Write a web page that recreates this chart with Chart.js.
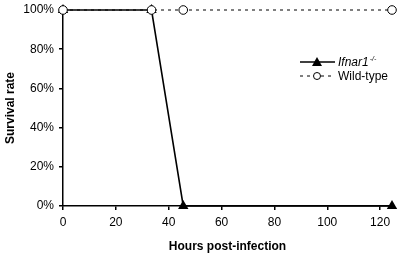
<!DOCTYPE html>
<html><head><meta charset="utf-8">
<script src="https://cdn.jsdelivr.net/npm/chart.js@4"></script>
<style>html,body{margin:0;padding:0;background:#fff}#wrap{width:401px;height:257px;position:relative}</style>
</head><body><div id="wrap"><canvas id="c" width="401" height="257"></canvas></div>
<script>
const hours = [0, 33.5, 45.5, 124.5];
const ifnarSurvival = [100, 100, 0, 0];
const wildTypeSurvival = [100, 100, 100, 100];
const xTicks = [0, 20, 40, 60, 80, 100, 120];
const yTicks = [0, 20, 40, 60, 80, 100];
const seriesNames = ['Ifnar1', 'Wild-type'];

const FONT = 'Liberation Sans, Arial, sans-serif';

const legendPlugin = {
  id: 'customLegend',
  afterDraw(chart) {
    const ctx = chart.ctx;
    ctx.save();
    let y = 62;
    ctx.strokeStyle = '#000'; ctx.lineWidth = 1.5; ctx.setLineDash([]);
    ctx.beginPath(); ctx.moveTo(300, y); ctx.lineTo(335, y); ctx.stroke();
    ctx.fillStyle = '#000';
    ctx.beginPath(); ctx.moveTo(317, y - 5); ctx.lineTo(322, y + 4); ctx.lineTo(312, y + 4); ctx.closePath(); ctx.fill();
    ctx.font = 'italic 12px ' + FONT; ctx.textBaseline = 'middle'; ctx.textAlign = 'left';
    ctx.fillText(seriesNames[0], 338, y + 1);
    const w = ctx.measureText(seriesNames[0]).width;
    ctx.font = 'italic 7px ' + FONT;
    ctx.fillText('-/-', 338 + w + 1, y - 3);
    y = 76;
    ctx.lineWidth = 1; ctx.setLineDash([3, 4]);
    ctx.beginPath(); ctx.moveTo(300, y); ctx.lineTo(335, y); ctx.stroke();
    ctx.setLineDash([]);
    ctx.fillStyle = '#fff';
    ctx.beginPath(); ctx.arc(317, y, 3.5, 0, Math.PI * 2); ctx.fill(); ctx.stroke();
    ctx.fillStyle = '#000'; ctx.font = '12px ' + FONT;
    ctx.fillText(seriesNames[1], 338, y + 1);
    ctx.restore();
  }
};

new Chart(document.getElementById('c'), {
  type: 'line',
  data: {
    datasets: [
      {
        label: seriesNames[0],
        data: hours.map((h, i) => ({x: h, y: ifnarSurvival[i]})),
        borderColor: '#000', backgroundColor: '#000', borderWidth: 1.6,
        pointStyle: 'triangle', pointRadius: 6, pointBorderWidth: 0,
        tension: 0, order: 1, clip: false
      },
      {
        label: seriesNames[1],
        data: hours.map((h, i) => ({x: h, y: wildTypeSurvival[i]})),
        borderColor: '#000', backgroundColor: '#fff', borderWidth: 1, borderDash: [3, 4],
        pointStyle: 'circle', pointRadius: 4.3, pointBorderWidth: 1, pointBorderColor: '#000', pointBackgroundColor: '#fff',
        tension: 0, order: 0, clip: false
      }
    ]
  },
  options: {
    responsive: false, animation: false,
    layout: { padding: { top: 10, right: 9, left: 0, bottom: 0 } },
    plugins: { legend: { display: false }, tooltip: { enabled: false } },
    scales: {
      x: {
        type: 'linear', min: 0, max: 124.5,
        afterBuildTicks: s => { s.ticks = xTicks.map(v => ({value: v})); },
        afterFit: s => { s.height = 51; },
        ticks: { color: '#000', font: { family: FONT, size: 12 }, padding: 5, maxRotation: 0 },
        grid: { display: true, drawOnChartArea: false, drawTicks: true, tickLength: 4, color: '#000', lineWidth: 1.5 },
        border: { color: '#000', width: 1.5 },
        title: { display: true, text: 'Hours post-infection', color: '#000', font: { family: FONT, size: 12, weight: 'bold' }, padding: { top: 0, bottom: 3 } }
      },
      y: {
        min: 0, max: 100,
        afterBuildTicks: s => { s.ticks = yTicks.map(v => ({value: v})); },
        afterFit: s => { s.width = 63; s.paddingTop = 0; s.paddingBottom = 0; },
        ticks: { color: '#000', font: { family: FONT, size: 12, lineHeight: 1 }, padding: 5, callback: v => v + '%' },
        grid: { display: true, drawOnChartArea: false, drawTicks: true, tickLength: 4, color: '#000', lineWidth: 1.5 },
        border: { color: '#000', width: 1.5 },
        title: { display: true, text: 'Survival rate', color: '#000', font: { family: FONT, size: 12, weight: 'bold' }, padding: { top: 3, bottom: 0 } }
      }
    }
  },
  plugins: [legendPlugin]
});
</script></body></html>
